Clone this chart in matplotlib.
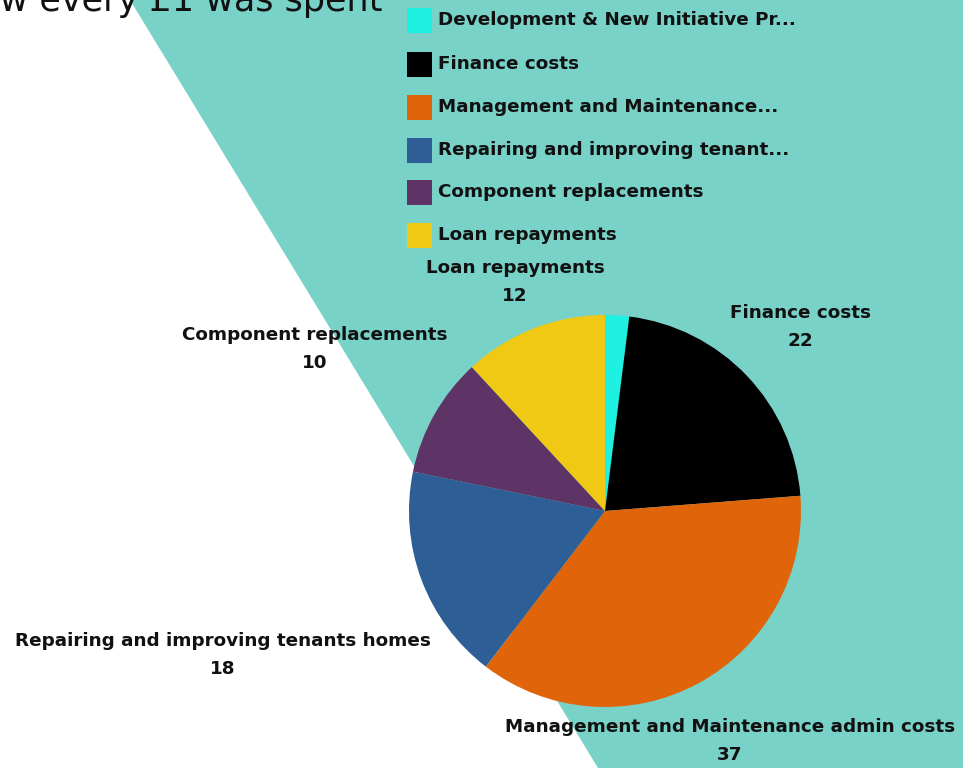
import matplotlib.pyplot as plt
from matplotlib.patches import Polygon

# spending breakdown, pence per £1
categories = ['Development & New Initiative Projects', 'Finance costs',
              'Management and Maintenance admin costs',
              'Repairing and improving tenants homes',
              'Component replacements', 'Loan repayments']
legend_names = ['Development & New Initiative Pr...', 'Finance costs',
                'Management and Maintenance...', 'Repairing and improving tenant...',
                'Component replacements', 'Loan repayments']
values = [2, 22, 37, 18, 10, 12]
colors = ['#1ef0e2', '#000000', '#e0650a', '#2e5e96', '#5e3466', '#f0c915']

W, H = 963, 768
FONT = 'DejaVu Sans'
FS = 13.2

fig = plt.figure(figsize=(W / 100, H / 100), dpi=100)
fig.patch.set_facecolor('white')
ax = fig.add_axes([0, 0, 1, 1])

def py(y):
    # pixel rows counted from the top
    return H - y

ax.pie(values, colors=colors, startangle=90, counterclock=False,
       center=(605, py(511)), radius=196, frame=True,
       wedgeprops=dict(linewidth=0))
ax.set_xlim(0, W)
ax.set_ylim(0, H)
ax.set_aspect('equal')
ax.axis('off')

# teal backdrop
ax.add_patch(Polygon([(130, py(0)), (W, py(0)), (W, py(H)), (598, py(H))],
                     closed=True, facecolor='#79d2c8', edgecolor='none', zorder=0))

# title, partly off the left edge
fig.text(382 / W, 1 - 11 / H, 'How every £1 was spent', ha='right', va='baseline',
         fontsize=25.2, color='#111111', family=FONT)

# legend
row_y = [20, 64, 107, 150, 192, 235]
for name, col, y in zip(legend_names, colors, row_y):
    ax.add_patch(plt.Rectangle((407, py(y) - 12.5), 25, 25, facecolor=col,
                               edgecolor='none', zorder=3))
    ax.text(438, py(y), name, ha='left', va='center', fontsize=FS,
            fontweight='bold', color='#111111', family=FONT)

# slice labels
label_pos = [None, (800, 313), (730, 727), (223, 641), (315, 335), (515, 268)]
for cat, val, pos in zip(categories, values, label_pos):
    if pos is None:
        continue
    x, y = pos
    ax.text(x, py(y), cat, ha='center', va='center', fontsize=FS,
            fontweight='bold', color='#111111', family=FONT)
    ax.text(x, py(y + 28), str(val), ha='center', va='center', fontsize=FS,
            fontweight='bold', color='#111111', family=FONT)

fig.savefig('out.png', dpi=100)
